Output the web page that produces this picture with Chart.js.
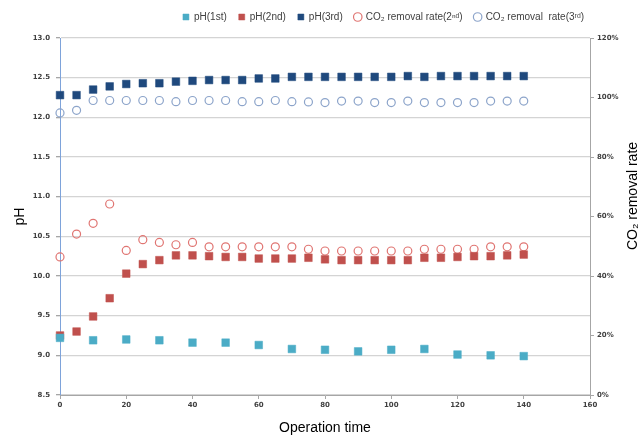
<!DOCTYPE html>
<html>
<head>
<meta charset="utf-8">
<script src="https://cdn.jsdelivr.net/npm/chart.js@4/dist/chart.umd.min.js"></script>
<style>
  html, body { margin: 0; padding: 0; background: #fff; }
  #wrap { width: 639px; height: 435px; }
</style>
</head>
<body>
<div id="wrap"><canvas id="ph-chart"></canvas></div>
<script>
// Operation time (x)
const time = [0, 5, 10, 15, 20, 25, 30, 35, 40, 45, 50, 55, 60, 65, 70,
    75, 80, 85, 90, 95, 100, 105, 110, 115, 120, 125, 130, 135, 140];
const time1st = [0, 10, 20, 30, 40, 50, 60, 70, 80, 90, 100, 110, 120, 130, 140];

// pH values
const ph1st = [9.22, 9.19, 9.20, 9.19, 9.16, 9.16, 9.13, 9.08, 9.07, 9.05, 9.07, 9.08, 9.01, 9.00, 8.99];
const ph2nd = [9.25, 9.30, 9.49, 9.72, 10.03, 10.15, 10.20, 10.26, 10.26, 10.25, 10.24, 10.24, 10.22, 10.22, 10.22,
    10.23, 10.21, 10.20, 10.20, 10.20, 10.20, 10.20, 10.23, 10.23, 10.24, 10.25, 10.25, 10.26, 10.27];
const ph3rd = [12.28, 12.28, 12.35, 12.39, 12.42, 12.43, 12.43, 12.45, 12.46, 12.47, 12.47, 12.47, 12.49, 12.49, 12.51,
    12.51, 12.51, 12.51, 12.51, 12.51, 12.51, 12.52, 12.51, 12.52, 12.52, 12.52, 12.52, 12.52, 12.52];

// CO2 removal rate (%)
const co2Rate2nd = [46.4, 54.1, 57.7, 64.2, 48.6, 52.2, 51.3, 50.5, 51.3, 49.8, 49.8, 49.8, 49.8, 49.8, 49.8,
    49.0, 48.4, 48.4, 48.4, 48.4, 48.4, 48.4, 49.0, 49.0, 49.0, 49.0, 49.8, 49.8, 49.8];
const co2Rate3rd = [94.8, 95.7, 99.0, 99.0, 99.0, 99.0, 99.0, 98.6, 99.0, 99.0, 99.0, 98.6, 98.6, 99.0, 98.6,
    98.5, 98.3, 98.8, 98.8, 98.3, 98.3, 98.8, 98.3, 98.3, 98.3, 98.3, 98.8, 98.8, 98.8];

const toPoints = (xs, ys) => xs.map((x, i) => ({ x: x, y: ys[i] }));

const tickFont = { family: "DejaVu Sans", size: 7, weight: "bold" };
const tickColor = "#404040";

// legend sits in a 38px band, shifted right like the original
const legendBand = {
    id: "legendBand",
    beforeInit(chart) {
        const fit = chart.legend.fit;
        chart.legend.fit = function () {
            fit.call(this);
            this.height = 38;
        };
    },
    afterLayout(chart) {
        chart.legend.left += 64;
        chart.legend.right += 64;
    },
};

// right axis title reads bottom-to-top
const rightTitle = {
    id: "rightTitle",
    afterDraw(chart) {
        const { ctx } = chart;
        ctx.save();
        ctx.translate(633, 196);
        ctx.rotate(-Math.PI / 2);
        ctx.font = "14px 'Liberation Sans'";
        ctx.fillStyle = "#000";
        ctx.textAlign = "center";
        ctx.textBaseline = "middle";
        ctx.fillText("CO\u2082 removal rate", 0, 0);
        ctx.restore();
    },
};

const square = (label, color, xs, ys) => ({
    label: label,
    data: toPoints(xs, ys),
    yAxisID: "y",
    pointStyle: "rect",
    pointRadius: 5.4,
    backgroundColor: color,
    borderColor: color,
    borderWidth: 0.5,
    clip: false,
});

const ring = (label, color, xs, ys) => ({
    label: label,
    data: toPoints(xs, ys),
    yAxisID: "y1",
    pointStyle: "circle",
    pointRadius: 4,
    backgroundColor: "rgba(255,255,255,0)",
    borderColor: color,
    borderWidth: 1.2,
    clip: false,
});

new Chart(document.getElementById("ph-chart"), {
    type: "scatter",
    data: {
        datasets: [
            square("pH(1st)", "#4BACC6", time1st, ph1st),
            square("pH(2nd)", "#C0504D", time, ph2nd),
            square("pH(3rd)", "#1F497D", time, ph3rd),
            ring("CO\u2082 removal rate(2\u207F\u1D48)", "#E07572", time, co2Rate2nd),
            ring("CO\u2082 removal  rate(3\u02B3\u1D48)", "#8CA4CA", time, co2Rate3rd),
        ],
    },
    options: {
        responsive: true,
        maintainAspectRatio: false,
        animation: false,
        layout: { padding: 0 },
        scales: {
            x: {
                type: "linear",
                min: 0,
                max: 160,
                afterFit: (scale) => { scale.height = 40; },
                border: { color: "#A6A6A6", width: 1 },
                grid: { drawOnChartArea: false, tickLength: 4, color: "#A6A6A6" },
                ticks: { stepSize: 20, padding: 2, font: tickFont, color: tickColor, maxRotation: 0 },
                title: {
                    display: true,
                    text: "Operation time",
                    color: "#000",
                    padding: 0,
                    font: { family: "Liberation Sans", size: 14, lineHeight: 1 },
                },
            },
            y: {
                position: "left",
                min: 8.5,
                max: 13,
                afterFit: (scale) => { scale.width = 60; },
                border: { color: "#7EA3DA", width: 1 },
                grid: { color: "#D4D4D4", lineWidth: 1.3, tickLength: 4, tickColor: "#A6A6A6" },
                ticks: {
                    stepSize: 0.5,
                    padding: 6,
                    font: tickFont,
                    color: tickColor,
                    callback: (value) => value.toFixed(1),
                },
                title: {
                    display: true,
                    text: "pH",
                    color: "#000",
                    padding: { top: 13, bottom: 0 },
                    font: { family: "Liberation Sans", size: 14, lineHeight: 1 },
                },
            },
            y1: {
                position: "right",
                min: 0,
                max: 120,
                afterFit: (scale) => { scale.width = 49; },
                border: { color: "#A6A6A6", width: 1 },
                grid: { drawOnChartArea: false, tickLength: 4, color: "#A6A6A6" },
                ticks: {
                    stepSize: 20,
                    padding: 3,
                    font: tickFont,
                    color: tickColor,
                    callback: (value) => value + "%",
                },
            },
        },
        plugins: {
            legend: {
                position: "top",
                labels: {
                    usePointStyle: true,
                    boxWidth: 6,
                    boxHeight: 6,
                    padding: 12,
                    color: "#404040",
                    font: { family: "Liberation Sans", size: 10 },
                },
            },
            tooltip: { enabled: false },
        },
    },
    plugins: [legendBand, rightTitle],
});
</script>
</body>
</html>
